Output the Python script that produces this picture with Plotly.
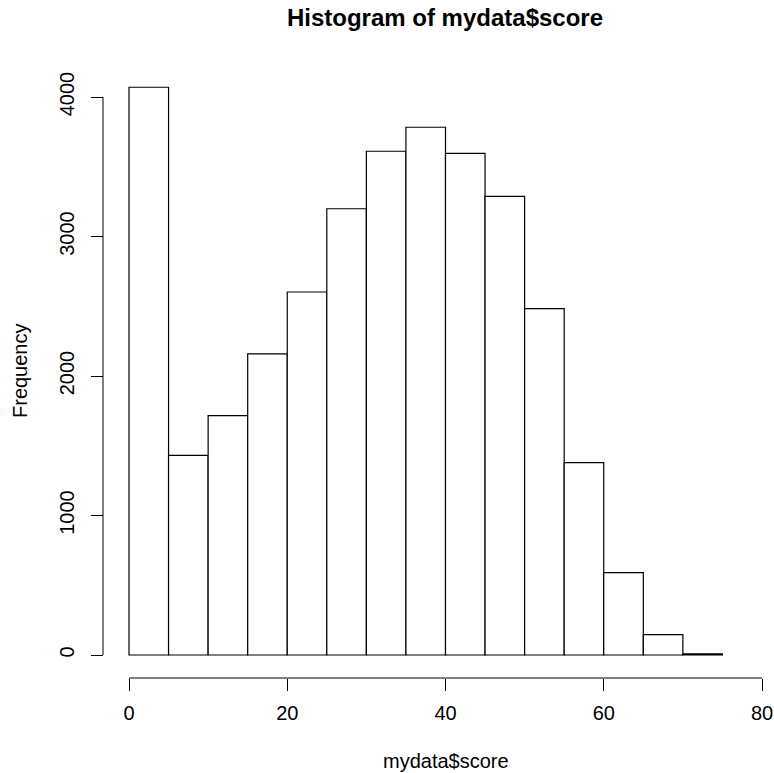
import plotly.graph_objects as go

# ---- data ----
bin_edges = [0, 5, 10, 15, 20, 25, 30, 35, 40, 45, 50, 55, 60, 65, 70, 75]
counts = [4070, 1431, 1716, 2158, 2602, 3199, 3611, 3783, 3596, 3288, 2483, 1379, 590, 146, 8]
x_ticks = [0, 20, 40, 60, 80]
y_ticks = [0, 1000, 2000, 3000, 4000]
title_text = "Histogram of mydata$score"
x_label = "mydata$score"
y_label = "Frequency"

W, H = 774, 773
FONT = "Liberation Sans, Arial, Helvetica, sans-serif"

def px_x(p):
    return p / W

def px_y(p):
    return (H - p) / H

centers = [(a + b) / 2 for a, b in zip(bin_edges[:-1], bin_edges[1:])]
widths = [b - a for a, b in zip(bin_edges[:-1], bin_edges[1:])]

# pixel calibration (page pixels)
x0_px, x80_px = 129, 762
kx = (x80_px - x0_px) / 80.0
y0_px, y4000_px = 655, 97
ky = (y0_px - y4000_px) / 4000.0

left_px, right_px = 103, 774
bottom_px, top_px = 678, 64
xr = [-(x0_px - left_px) / kx, (right_px - x0_px) / kx]
yr = [-(bottom_px - y0_px) / ky, (y0_px - top_px) / ky]

fig = go.Figure()
fig.add_trace(go.Bar(
    x=centers, y=counts, width=widths,
    marker=dict(color="white", line=dict(color="black", width=1.2)),
    showlegend=False, hoverinfo="x+y",
))

fig.update_layout(
    width=W, height=H,
    margin=dict(l=0, r=0, t=0, b=0),
    paper_bgcolor="white", plot_bgcolor="white",
    font=dict(family=FONT, size=20, color="black"),
    title=dict(text="<b>" + title_text + "</b>", x=px_x(445), xanchor="center",
               y=px_y(18), yanchor="middle", font=dict(size=24, family=FONT)),
    xaxis=dict(
        domain=[px_x(left_px), px_x(right_px)], range=xr,
        anchor="free", position=px_y(bottom_px),
        showline=False, showgrid=False, zeroline=False,
        ticks="outside", ticklen=12, tickwidth=1, tickcolor="black",
        tickvals=x_ticks, ticktext=[str(v) for v in x_ticks],
        tickfont=dict(size=20), ticklabelstandoff=5,
    ),
    yaxis=dict(
        domain=[px_y(bottom_px), px_y(top_px)], range=yr,
        anchor="free", position=px_x(left_px),
        showline=False, showgrid=False, zeroline=False,
        ticks="outside", ticklen=12, tickwidth=1, tickcolor="black",
        tickvals=y_ticks, ticktext=[str(v) for v in y_ticks],
        tickangle=-90, tickfont=dict(size=20), ticklabelstandoff=9,
    ),
    shapes=[
        dict(type="line", xref="x", yref="paper", x0=x_ticks[0], x1=x_ticks[-1],
             y0=px_y(bottom_px), y1=px_y(bottom_px),
             line=dict(color="black", width=1)),
        dict(type="line", xref="paper", yref="y", x0=px_x(left_px), x1=px_x(left_px),
             y0=y_ticks[0], y1=y_ticks[-1], line=dict(color="black", width=1)),
    ],
    annotations=[
        dict(text=x_label, xref="x", yref="paper", x=40, y=px_y(761),
             showarrow=False, xanchor="center", yanchor="middle", font=dict(size=20)),
        dict(text=y_label, xref="paper", yref="paper", x=px_x(20), y=px_y(371),
             showarrow=False, xanchor="center", yanchor="middle", textangle=-90,
             font=dict(size=20)),
    ],
)

fig.write_html("out.html", config={"displayModeBar": False},
               post_script="document.body.style.margin='0';document.body.style.overflow='hidden';")
